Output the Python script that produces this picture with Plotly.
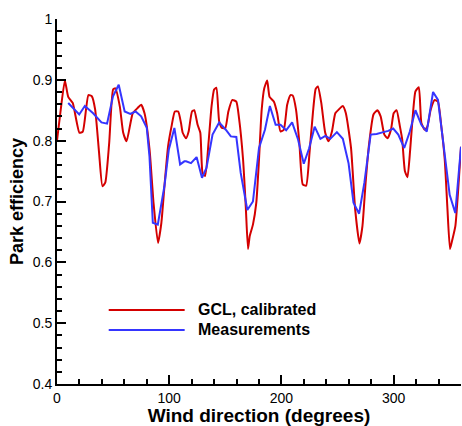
import plotly.graph_objects as go

# GCL, calibrated (red)
gcl_dir = [0, 3, 7, 10, 14, 20, 23, 28, 31, 34, 37.5, 40.5, 43, 46.5, 50, 52, 56, 59, 62,
           67.5, 72, 75, 78, 82.5, 86, 90, 93, 96, 99, 102, 105, 108, 110.5, 112, 115, 117.3,
           120.3, 122.3, 125.3, 127.7, 129.7, 132, 135, 137.7, 140, 142, 144.5, 147, 150,
           152.7, 156.3, 159.8, 162.2, 165.8, 168.2, 170.2, 171.7, 174.6, 177.6, 180, 182.4,
           184.7, 187.3, 189.4, 193.3, 196.2, 199.2, 202.1, 205.1, 208.1, 210.1, 213, 216,
           219, 222, 225, 228, 230.5, 232.5, 235.5, 239, 242, 245, 248, 251, 254.7, 257.4,
           262, 265.7, 269.5, 272.2, 275, 278, 282, 285.5, 288.4, 291.7, 294.6, 297.6, 300,
           302.6, 305.6, 307.6, 310, 312.3, 314.7, 317, 319.4, 322.4, 324.7, 327.7, 330, 333,
           336.6, 339.5, 342.5, 345.5, 347.8, 350.2, 352, 355, 357.3, 360]
gcl_eff = [0.800, 0.846, 0.899, 0.872, 0.862, 0.813, 0.815, 0.875, 0.873, 0.851, 0.780, 0.725,
           0.731, 0.796, 0.884, 0.886, 0.856, 0.813, 0.799, 0.845, 0.854, 0.859, 0.845, 0.785,
           0.698, 0.632, 0.665, 0.731, 0.791, 0.823, 0.848, 0.848, 0.829, 0.813, 0.804, 0.815,
           0.848, 0.850, 0.826, 0.813, 0.747, 0.742, 0.796, 0.856, 0.884, 0.887, 0.832, 0.821,
           0.821, 0.848, 0.867, 0.864, 0.837, 0.769, 0.692, 0.622, 0.643, 0.662, 0.698, 0.769,
           0.851, 0.886, 0.899, 0.872, 0.864, 0.845, 0.815, 0.818, 0.859, 0.875, 0.874, 0.851,
           0.796, 0.728, 0.726, 0.780, 0.845, 0.885, 0.889, 0.862, 0.813, 0.799, 0.815, 0.845,
           0.851, 0.857, 0.845, 0.788, 0.687, 0.631, 0.660, 0.731, 0.793, 0.843, 0.850, 0.840,
           0.810, 0.804, 0.818, 0.845, 0.850, 0.823, 0.802, 0.750, 0.740, 0.785, 0.840, 0.881,
           0.888, 0.829, 0.818, 0.823, 0.851, 0.867, 0.864, 0.823, 0.769, 0.692, 0.622, 0.635,
           0.660, 0.714, 0.790]

# Measurements (blue)
meas_dir = [10, 19.8, 24.8, 32.2, 39.6, 44.6, 49.9, 55, 60.3, 65.3, 70, 75, 80, 82.4, 85.4,
            89.8, 95.7, 99.6, 104.6, 109.7, 113.5, 115, 119.4, 124.4, 129.2, 133.2, 138.6,
            144.5, 150.4, 154.9, 159.8, 163.7, 169.6, 174.6, 180, 185.3, 189.7, 194.8, 199.2,
            204.2, 209.5, 214.8, 219.9, 224.6, 229.6, 234.7, 239.1, 243.5, 249.4, 254.7,
            259.8, 264.2, 269.2, 273.9, 279.5, 284.8, 290.8, 295.2, 299.6, 304.1, 309.4,
            314.4, 319.4, 324.7, 329.5, 335.1, 339.5, 344, 349.9, 354.9, 360]
meas_eff = [0.862, 0.843, 0.857, 0.845, 0.830, 0.828, 0.873, 0.892, 0.848, 0.844, 0.848, 0.840,
            0.821, 0.774, 0.665, 0.662, 0.725, 0.785, 0.821, 0.761, 0.766, 0.766, 0.763, 0.773,
            0.739, 0.755, 0.810, 0.830, 0.818, 0.807, 0.806, 0.747, 0.686, 0.700, 0.788, 0.818,
            0.857, 0.826, 0.826, 0.817, 0.830, 0.802, 0.762, 0.787, 0.823, 0.803, 0.808, 0.803,
            0.814, 0.803, 0.763, 0.698, 0.680, 0.731, 0.810, 0.811, 0.814, 0.816, 0.820, 0.810,
            0.788, 0.815, 0.850, 0.826, 0.815, 0.880, 0.867, 0.802, 0.711, 0.681, 0.790]

x_ticks = [0, 100, 200, 300]
y_ticks = [0.4, 0.5, 0.6, 0.7, 0.8, 0.9, 1.0]
y_tick_text = ["0.4", "0.5", "0.6", "0.7", "0.8", "0.9", "1"]

RED = "#d40000"
BLUE = "#3535ff"
FONT = "Liberation Sans, Arial, sans-serif"

fig = go.Figure()
fig.add_trace(go.Scatter(x=gcl_dir, y=gcl_eff, mode="lines", name="GCL, calibrated",
                         line=dict(color=RED, width=2, shape="spline", smoothing=0.5),
                         cliponaxis=False))
fig.add_trace(go.Scatter(x=meas_dir, y=meas_eff, mode="lines", name="Measurements",
                         line=dict(color=BLUE, width=2), cliponaxis=False))

axis_common = dict(showline=True, linecolor="black", linewidth=2, showgrid=False,
                   zeroline=False, ticks="inside", ticklen=9, tickwidth=1.5,
                   tickcolor="black", tickfont=dict(family=FONT, size=14, color="black"))

fig.update_xaxes(range=[0, 360], tickvals=x_ticks,
                 minor=dict(ticks="inside", ticklen=5, tickwidth=1.5, tickcolor="black", dtick=20),
                 title=dict(text="<b>Wind direction (degrees)</b>",
                            font=dict(family=FONT, size=19, color="black"), standoff=2),
                 **axis_common)
fig.update_yaxes(range=[0.4, 1.0], tickvals=y_ticks, ticktext=y_tick_text,
                 minor=dict(ticks="inside", ticklen=5, tickwidth=1.5, tickcolor="black", dtick=0.02),
                 title=dict(text="<b>Park efficiency</b>",
                            font=dict(family=FONT, size=18, color="black"), standoff=4),
                 **axis_common)

# legend drawn as shapes + text
leg_items = [("GCL, calibrated", RED, 0.203), ("Measurements", BLUE, 0.148)]
for label, col, yy in leg_items:
    fig.add_shape(type="line", xref="paper", yref="paper", x0=0.128, x1=0.316, y0=yy, y1=yy,
                  line=dict(color=col, width=2))
    fig.add_annotation(xref="paper", yref="paper", x=0.345, y=yy, xanchor="left",
                       yanchor="middle", showarrow=False, text="<b>" + label + "</b>",
                       font=dict(family=FONT, size=16, color="black"))

fig.update_layout(width=462, height=426, margin=dict(l=57, r=1, t=19, b=42),
                  plot_bgcolor="white", paper_bgcolor="white", showlegend=False)

# remove the page's default body margin so the figure sits at the window's corner
fig.write_html("out.html", config={"displayModeBar": False},
               post_script="document.body.style.margin='0px';document.body.style.overflow='hidden';")
